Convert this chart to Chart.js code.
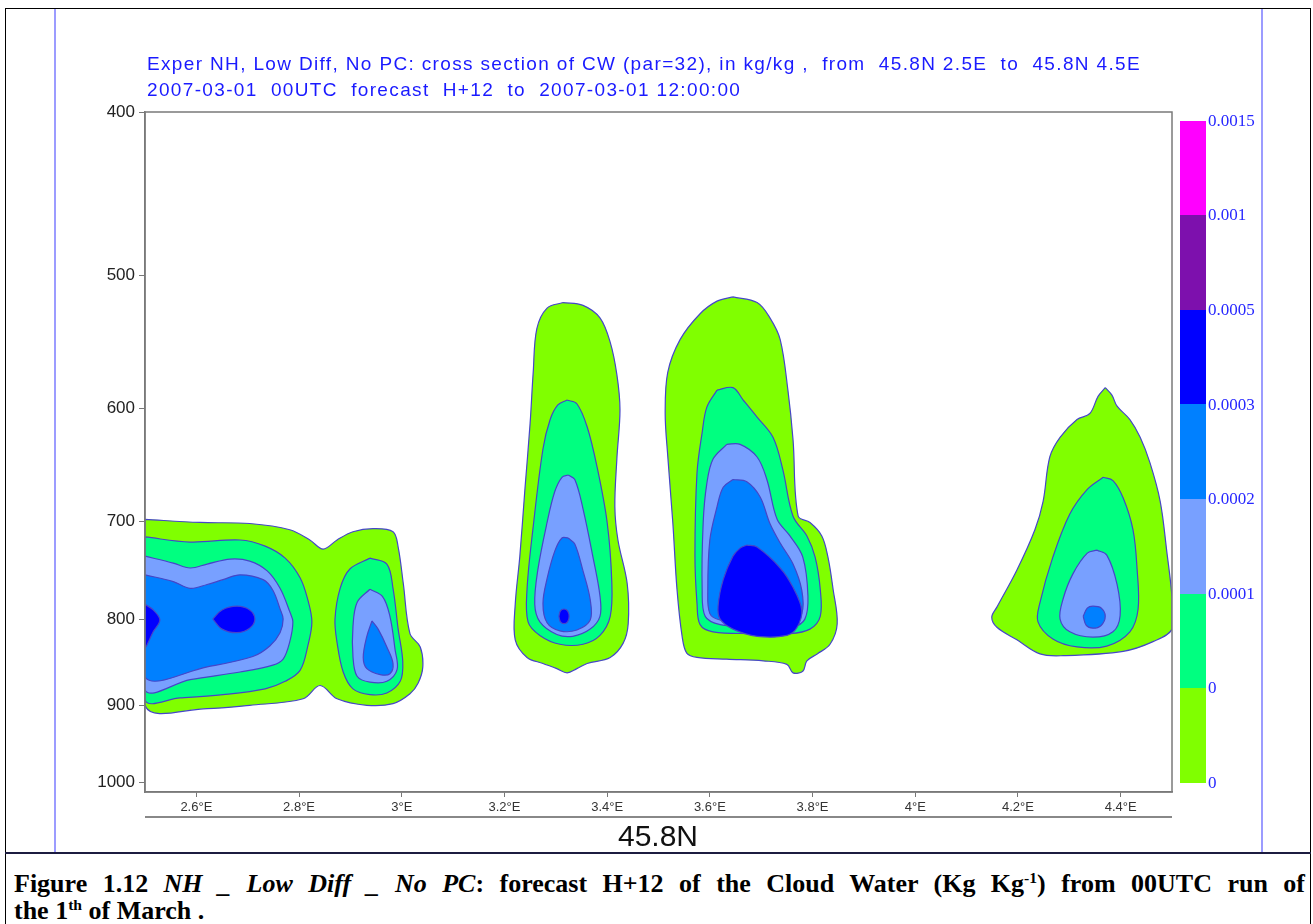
<!DOCTYPE html>
<html lang="en">
<head>
<meta charset="UTF-8">
<title>Cloud Water cross section</title>
<script src="https://cdn.jsdelivr.net/npm/chart.js"></script>
<style>
  html, body { margin: 0; padding: 0; background: #fff; }
  #page { position: relative; width: 1313px; height: 924px; overflow: hidden; font-family: "Liberation Sans", Arial, sans-serif; }
  #frame { position: absolute; left: 5px; top: 8px; width: 1306px; height: 940px; border: 1.5px solid #000; box-sizing: border-box; }
  .vline { position: absolute; top: 9px; width: 1.5px; height: 843px; background: #9c9cff; }
  #sep { position: absolute; left: 5px; top: 852px; width: 1306px; height: 1.5px; background: #1c1c40; }
  #chart { position: absolute; left: 0; top: 0; }
  .title { position: absolute; left: 147px; font-size: 19px; letter-spacing: 1.35px; line-height: 26px; color: #1a1aff; white-space: pre; }
  #xline { position: absolute; left: 145px; top: 816px; width: 1027px; height: 1.5px; background: #888; }
  #xname { position: absolute; left: 558px; width: 200px; top: 821px; text-align: center; font-size: 30px; line-height: 30px; color: #111; }
  #cbar { position: absolute; left: 1180px; top: 120.7px; width: 26px; }
  #cbar div { height: 94.6px; }
  .clab { position: absolute; left: 1208px; font-family: "Liberation Serif", "Times New Roman", serif; font-size: 17px; line-height: 18px; color: #2828ff; }
  #caption { position: absolute; left: 14px; top: 870px; width: 1291px; font-family: "Liberation Serif", "Times New Roman", serif; font-weight: bold; font-size: 26px; line-height: 27px; color: #000; }
  #caption .l1 { text-align: justify; text-align-last: justify; }
  #caption sup { font-size: 60%; line-height: 0; vertical-align: 0.55em; }
</style>
</head>
<body>
<div id="page">
  <div id="frame"></div>
  <div class="vline" style="left:54px"></div>
  <div class="vline" style="left:1261px"></div>
  <div id="sep"></div>
  <canvas id="chart" width="1313" height="850"></canvas>
  <div class="title" style="top:51px">Exper NH, Low Diff, No PC: cross section of CW (par=32), in kg/kg ,  from  45.8N 2.5E  to  45.8N 4.5E</div>
  <div class="title" style="top:77px">2007-03-01  00UTC  forecast  H+12  to  2007-03-01 12:00:00</div>
  <div id="xline"></div>
  <div id="xname">45.8N</div>
  <div id="cbar"></div>
  <div id="caption">
    <div class="l1">Figure 1.12 <i>NH _ Low Diff _ No PC</i>: forecast H+12 of the Cloud Water (Kg Kg<sup>-1</sup>) from 00UTC run of</div>
    <div>the 1<sup>th</sup> of March .</div>
  </div>
</div>

<script>
// colour levels, bottom to top
const levelLabels = ["0", "0", "0.0001", "0.0002", "0.0003", "0.0005", "0.001", "0.0015"];
const levelColors = ["#80ff00", "#00ff80", "#78a0ff", "#0080ff", "#0000ff", "#7d10ad", "#ff00ff"];

const pressureTicks = [400, 500, 600, 700, 800, 900, 1000];
const lonTicks = [2.6, 2.8, 3.0, 3.2, 3.4, 3.6, 3.8, 4.0, 4.2, 4.4];

// contour outlines, [longitude, hPa]
// blob near 2.5E - 3.0E
const westLime = [[2.5,698],[2.607,701],[2.704,702],[2.782,708],[2.821,718],[2.847,727],[2.874,718],[2.905,710],[2.944,707],[2.983,710],[2.993,725],[3.003,762],[3.016,816],[3.036,831],[3.041,854],[3.032,873],[3.016,886],[2.983,898],[2.932,900],[2.874,892],[2.841,876],[2.808,892],[2.704,900],[2.621,904],[2.5,900]];
const westGreen = [[2.5,715],[2.588,720],[2.685,718],[2.734,724],[2.773,736],[2.802,756],[2.817,779],[2.825,803],[2.817,830],[2.802,858],[2.773,871],[2.734,880],[2.652,887],[2.568,891],[2.5,893]];
const westPale = [[2.5,734],[2.555,741],[2.588,746],[2.621,742],[2.666,737],[2.704,739],[2.738,749],[2.763,767],[2.782,792],[2.788,803],[2.782,825],[2.769,845],[2.749,852],[2.685,860],[2.588,869],[2.5,881]];
const westBlue = [[2.5,753],[2.555,760],[2.588,767],[2.621,763],[2.652,758],[2.685,753],[2.730,758],[2.749,769],[2.763,789],[2.769,800],[2.763,815],[2.743,830],[2.710,842],[2.621,854],[2.5,866]];
const westDeepEdge = [[2.5,784],[2.516,790],[2.529,801],[2.516,814],[2.5,831]];
const westDeepCore = [[2.632,800],[2.650,790],[2.679,786],[2.704,790],[2.714,800],[2.704,810],[2.679,815],[2.650,811]];
const threeGreen = [[2.938,736],[2.971,742],[2.983,767],[2.993,811],[3.002,848],[2.997,871],[2.971,885],[2.938,887],[2.905,880],[2.886,860],[2.874,826],[2.870,800],[2.880,767],[2.899,747]];
const threePale = [[2.938,768],[2.963,776],[2.977,797],[2.987,834],[2.991,857],[2.971,871],[2.938,872],[2.913,865],[2.905,842],[2.905,808],[2.913,782]];
const threeBlue = [[2.942,802],[2.954,811],[2.971,831],[2.983,850],[2.977,862],[2.958,863],[2.932,856],[2.925,843],[2.932,819]];

// blob near 3.3E
const b33Lime = [[3.314,519],[3.353,521],[3.386,530],[3.406,548],[3.419,573],[3.425,601],[3.419,642],[3.415,686],[3.421,718],[3.439,762],[3.441,805],[3.431,827],[3.406,843],[3.361,850],[3.341,856],[3.322,861],[3.302,856],[3.275,850],[3.244,843],[3.221,823],[3.221,784],[3.230,734],[3.240,669],[3.250,612],[3.256,571],[3.263,538],[3.283,523]];
const b33Green = [[3.322,593],[3.341,596],[3.361,615],[3.380,649],[3.400,701],[3.409,760],[3.406,797],[3.386,818],[3.353,828],[3.308,828],[3.269,818],[3.246,803],[3.244,768],[3.256,705],[3.275,634],[3.289,609],[3.304,597]];
const b33Pale = [[3.324,657],[3.337,661],[3.353,688],[3.372,734],[3.386,775],[3.386,797],[3.367,811],[3.333,819],[3.302,817],[3.269,803],[3.259,784],[3.265,748],[3.283,701],[3.298,672],[3.312,659]];
const b33Blue = [[3.324,716],[3.337,722],[3.353,749],[3.367,779],[3.367,801],[3.341,812],[3.308,813],[3.283,804],[3.275,783],[3.283,757],[3.298,729],[3.312,716]];
const b33Deep = [[3.306,797],[3.309,791],[3.316,789],[3.323,791],[3.326,797],[3.323,803],[3.316,805],[3.309,803]];

// blob near 3.65E
const b36Lime = [[3.645,515],[3.692,519],[3.717,530],[3.737,546],[3.752,585],[3.762,626],[3.772,695],[3.795,701],[3.818,714],[3.830,735],[3.840,768],[3.848,805],[3.834,828],[3.809,839],[3.789,847],[3.781,859],[3.762,861],[3.750,851],[3.704,847],[3.633,845],[3.575,843],[3.555,838],[3.546,819],[3.536,768],[3.528,702],[3.518,640],[3.513,604],[3.518,571],[3.542,546],[3.581,527],[3.614,518]];
const b36Green = [[3.614,585],[3.645,583],[3.665,593],[3.692,607],[3.723,624],[3.742,652],[3.762,695],[3.789,714],[3.805,735],[3.815,768],[3.815,797],[3.795,811],[3.756,816],[3.679,816],[3.606,814],[3.581,806],[3.575,783],[3.571,734],[3.575,655],[3.585,620],[3.594,599]];
const b36Pale = [[3.633,630],[3.659,630],[3.692,641],[3.711,661],[3.731,698],[3.756,714],[3.781,735],[3.791,775],[3.785,800],[3.762,808],[3.679,808],[3.620,806],[3.591,797],[3.585,768],[3.587,701],[3.594,665],[3.606,643]];
const b36Blue = [[3.645,661],[3.672,663],[3.698,677],[3.717,702],[3.737,721],[3.762,742],[3.779,769],[3.779,794],[3.756,804],[3.679,804],[3.620,801],[3.600,794],[3.596,769],[3.600,718],[3.614,686],[3.626,668]];
const b36Deep = [[3.672,723],[3.692,725],[3.737,746],[3.762,766],[3.779,790],[3.770,809],[3.750,818],[3.692,819],[3.645,811],[3.620,800],[3.616,786],[3.626,758],[3.645,734],[3.659,726]];

// blob near 4.35E
const b43Lime = [[4.370,583],[4.383,589],[4.393,598],[4.418,609],[4.438,624],[4.457,646],[4.477,681],[4.490,730],[4.5,777],[4.5,811],[4.463,825],[4.405,836],[4.288,841],[4.243,839],[4.198,823],[4.159,809],[4.149,798],[4.159,787],[4.198,748],[4.233,708],[4.249,681],[4.262,641],[4.282,624],[4.315,609],[4.340,604],[4.356,590]];
const b43Green = [[4.366,659],[4.385,662],[4.405,678],[4.424,708],[4.432,747],[4.434,789],[4.418,814],[4.373,830],[4.315,831],[4.268,822],[4.239,803],[4.243,782],[4.268,735],[4.301,693],[4.335,670]];
const b43Pale = [[4.354,728],[4.373,733],[4.393,763],[4.399,796],[4.385,814],[4.346,820],[4.301,814],[4.282,800],[4.288,778],[4.307,752],[4.335,731]];
const b43Blue = [[4.327,797],[4.335,788],[4.346,786],[4.362,788],[4.370,797],[4.362,807],[4.346,810],[4.333,807]];

// [level index, outline]
const contours = [
  [0, westLime], [1, westGreen], [2, westPale], [3, westBlue], [4, westDeepEdge], [4, westDeepCore],
  [1, threeGreen], [2, threePale], [3, threeBlue],
  [0, b33Lime], [1, b33Green], [2, b33Pale], [3, b33Blue], [4, b33Deep],
  [0, b36Lime], [1, b36Green], [2, b36Pale], [3, b36Blue], [4, b36Deep],
  [0, b43Lime], [1, b43Green], [2, b43Pale], [3, b43Blue]
];

// colour bar
const cbar = document.getElementById("cbar");
for (let i = levelColors.length - 1; i >= 0; i--) {
  const d = document.createElement("div");
  d.style.background = levelColors[i];
  cbar.appendChild(d);
}
const page = document.getElementById("page");
levelLabels.forEach((txt, i) => {
  const y = 120.7 + (levelLabels.length - 1 - i) * 94.6;
  const l = document.createElement("div");
  l.className = "clab";
  l.style.top = (y - 9) + "px";
  l.textContent = txt;
  page.appendChild(l);
});

const datasets = contours.map(([lvl, pts]) => {
  const data = pts.map(p => ({ x: p[0], y: p[1] }));
  data.push({ x: pts[0][0], y: pts[0][1] });
  return {
    data: data,
    order: 10 - lvl,
    backgroundColor: levelColors[lvl],
    borderColor: "#4646c8",
    borderWidth: 1.2,
    fill: "shape",
    tension: 0.35,
    pointRadius: 0,
    pointHitRadius: 0
  };
});

const boxPlugin = {
  id: "box",
  afterDatasetsDraw(chart) {
    const a = chart.chartArea;
    const ctx = chart.ctx;
    ctx.save();
    ctx.strokeStyle = "#7a7a7a";
    ctx.lineWidth = 1.5;
    ctx.strokeRect(a.left, a.top, a.right - a.left, a.bottom - a.top);
    ctx.restore();
  }
};

new Chart(document.getElementById("chart"), {
  type: "line",
  data: { datasets: datasets },
  plugins: [boxPlugin],
  options: {
    responsive: false,
    devicePixelRatio: 1,
    animation: false,
    events: [],
    layout: { padding: { left: 0, top: 112, right: 141, bottom: 32 } },
    plugins: { legend: { display: false }, tooltip: { enabled: false } },
    scales: {
      x: {
        type: "linear",
        min: 2.5,
        max: 4.5,
        afterFit(s) { s.height = 26; },
        afterBuildTicks(s) { s.ticks = lonTicks.map(v => ({ value: v })); },
        grid: { drawOnChartArea: false, drawTicks: true, tickLength: 5, color: "#777" },
        border: { display: true, color: "#7a7a7a", width: 1.5 },
        ticks: {
          autoSkip: false, maxRotation: 0, padding: 3, color: "#333",
          font: { family: "Liberation Sans", size: 13 },
          callback: v => v + "°E"
        }
      },
      y: {
        type: "logarithmic",
        reverse: true,
        min: 400,
        max: 1013.25,
        afterFit(s) { s.width = 145; },
        afterBuildTicks(s) { s.ticks = pressureTicks.map(v => ({ value: v })); },
        grid: { drawOnChartArea: false, drawTicks: true, tickLength: 6, color: "#777" },
        border: { display: true, color: "#7a7a7a", width: 1.5 },
        ticks: {
          autoSkip: false, padding: 4, color: "#222",
          font: { family: "Liberation Sans", size: 17 },
          callback: v => String(v)
        }
      }
    }
  }
});
</script>
</body>
</html>
